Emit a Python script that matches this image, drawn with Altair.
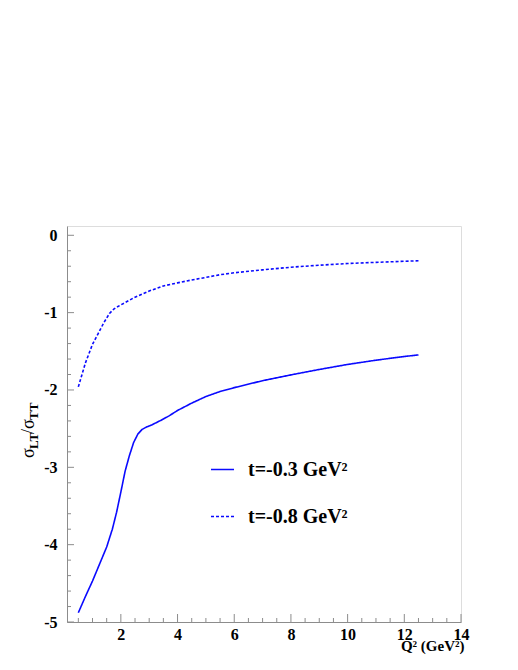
import altair as alt
import pandas as pd

# ---- data ----
q2_t03 = [0.5, 0.75, 1.0, 1.25, 1.5, 1.7, 1.85, 2.0, 2.15, 2.3, 2.45, 2.6, 2.75, 2.9,
          3.1, 3.4, 3.7, 4.0, 4.5, 5.0, 5.5, 6.0, 7.0, 8.0, 9.0, 10.0, 11.0, 12.0, 12.5]
r_t03 = [-4.88, -4.67, -4.47, -4.25, -4.03, -3.80, -3.58, -3.32, -3.05, -2.85, -2.68, -2.57,
         -2.51, -2.48, -2.45, -2.395, -2.335, -2.265, -2.17, -2.085, -2.02, -1.97, -1.88, -1.805,
         -1.735, -1.67, -1.615, -1.567, -1.547]

q2_t08 = [0.5, 0.75, 1.0, 1.2, 1.4, 1.6, 1.75, 1.9, 2.2, 2.5, 3.0, 3.5, 4.0, 4.5, 5.0,
          5.5, 6.0, 7.0, 8.0, 9.0, 10.0, 11.0, 12.0, 12.5]
r_t08 = [-1.96, -1.65, -1.41, -1.27, -1.13, -1.01, -0.955, -0.92, -0.86, -0.80, -0.72,
         -0.655, -0.615, -0.578, -0.545, -0.51, -0.485, -0.447, -0.413, -0.387, -0.365,
         -0.35, -0.336, -0.33]

series_names = ["t=-0.3 GeV\u00b2", "t=-0.8 GeV\u00b2"]

x_major = [2, 4, 6, 8, 10, 12, 14]
x_minor = [0.5, 1.0, 1.5, 2.5, 3.0, 3.5, 4.5, 5.0, 5.5, 6.5, 7.0, 7.5, 8.5, 9.0, 9.5,
           10.5, 11.0, 11.5, 12.5, 13.0, 13.5]
y_major = [-5, -4, -3, -2, -1, 0]
y_minor = [-4.8, -4.6, -4.4, -4.2, -3.8, -3.6, -3.4, -3.2, -2.8, -2.6, -2.4, -2.2,
           -1.8, -1.6, -1.4, -1.2, -0.8, -0.6, -0.4, -0.2]

ylabel_parts = ["\u03c3", "LT", "/\u03c3", "TT"]
xlabel = "Q\u00b2 (GeV\u00b2)"

# ---- styling ----
W, H = 394, 396
BLUE = "#0a0aff"
GREY = "#8c8c8c"
FONT = "Liberation Serif"

df = pd.concat([
    pd.DataFrame({"q2": q2_t03, "r": r_t03, "series": series_names[0]}),
    pd.DataFrame({"q2": q2_t08, "r": r_t08, "series": series_names[1]}),
])

xs = alt.Scale(domain=[0.1, 14], nice=False, zero=False)
ys = alt.Scale(domain=[-5, 0.12], nice=False, zero=False)

leg = alt.Legend(
    title=None, orient="none", legendX=143, legendY=231, padding=0,
    symbolType="stroke", symbolSize=529, symbolStrokeWidth=1.4,
    labelFont=FONT, labelFontWeight="bold", labelFontSize=20, labelColor="black",
    labelOffset=13, rowPadding=24, labelLimit=300,
)

lines = alt.Chart(df).mark_line(strokeWidth=1.6).encode(
    x=alt.X("q2:Q", scale=xs, axis=alt.Axis(
        values=x_major, ticks=False, grid=False, domainColor=GREY,
        labelFont=FONT, labelFontWeight="bold", labelFontSize=16, labelColor="black",
        labelPadding=4, labelFlush=False,
        title=xlabel, titleFont=FONT, titleFontWeight="bold", titleFontSize=15,
        titleColor="black", titleAnchor="end", titleAlign="right",
        titleX=397, titleY=28, titleBaseline="alphabetic")),
    y=alt.Y("r:Q", scale=ys, axis=alt.Axis(
        values=y_major, ticks=False, grid=False, domainColor=GREY, title=None,
        labelFont=FONT, labelFontWeight="bold", labelFontSize=16, labelColor="black",
        labelPadding=10, labelFlush=False,
        labelExpr="datum.value < 0 ? '-' + format(-datum.value, 'd') : format(datum.value, 'd')")),
    color=alt.Color("series:N", scale=alt.Scale(domain=series_names, range=[BLUE, BLUE]), legend=leg),
    strokeDash=alt.StrokeDash("series:N", scale=alt.Scale(domain=series_names, range=[[1, 0], [3, 2]]), legend=leg),
)

ytm = alt.Chart(pd.DataFrame({"r": y_major})).mark_rule(color=GREY, strokeWidth=1).encode(
    y=alt.Y("r:Q", scale=ys), x=alt.value(0), x2=alt.value(7))
ytn = alt.Chart(pd.DataFrame({"r": y_minor})).mark_rule(color=GREY, strokeWidth=1).encode(
    y=alt.Y("r:Q", scale=ys), x=alt.value(0), x2=alt.value(4))
xtm = alt.Chart(pd.DataFrame({"q2": x_major})).mark_rule(color=GREY, strokeWidth=1).encode(
    x=alt.X("q2:Q", scale=xs), y=alt.value(H), y2=alt.value(H - 8))
xtn = alt.Chart(pd.DataFrame({"q2": x_minor})).mark_rule(color=GREY, strokeWidth=1).encode(
    x=alt.X("q2:Q", scale=xs), y=alt.value(H), y2=alt.value(H - 4))

def ypart(i, px, py, size, weight):
    return alt.Chart(pd.DataFrame({"t": [ylabel_parts[i]]})).mark_text(
        angle=270, align="left", baseline="alphabetic", font=FONT,
        fontSize=size, fontWeight=weight, color="black").encode(
        text="t:N", x=alt.value(px), y=alt.value(py))

ylab = (ypart(0, -33, 232, 18, "normal") + ypart(1, -29, 223, 13, "bold")
        + ypart(2, -33, 208, 18, "normal") + ypart(3, -29, 194, 13, "bold"))

chart = alt.layer(lines, ytm, ytn, xtm, xtn, ylab).properties(
    width=W, height=H,
    autosize=alt.AutoSizeParams(type="none"),
    padding={"left": 59, "top": 218, "right": 40, "bottom": 40},
).configure_view(stroke="#a0a0a0", strokeWidth=1).configure(background="white")

chart.save("out.html", embed_options={"renderer": "svg", "actions": False})
